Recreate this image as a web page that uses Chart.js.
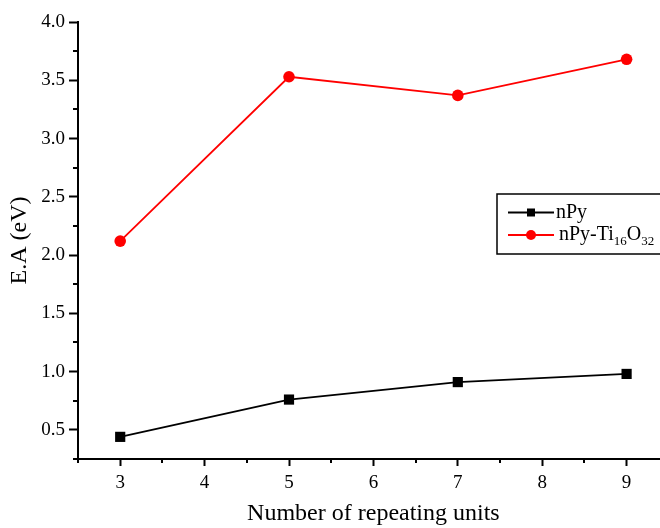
<!DOCTYPE html>
<html>
<head>
<meta charset="utf-8">
<script src="https://cdn.jsdelivr.net/npm/chart.js@4/dist/chart.umd.min.js"></script>
<style>
  html, body { margin: 0; padding: 0; overflow: hidden; background: #fff; }
  canvas { display: block; }
</style>
</head>
<body>
<canvas id="ea-chart" width="676" height="528"></canvas>
<script>
// data
const units = [3, 5, 7, 9];
const eaPy = [0.44, 0.76, 0.91, 0.98];
const eaPyTi = [2.12, 3.53, 3.37, 3.68];
const seriesNames = ['nPy', 'nPy-Ti16O32'];

const serif = "'Liberation Serif', 'Times New Roman', serif";
Chart.defaults.font.family = serif;
Chart.defaults.font.size = 19;
Chart.defaults.color = '#000';

const isMajor = (v, step) => Math.abs(v / step - Math.round(v / step)) < 1e-6;

// shorter minor ticks (Chart.js has one tickLength per axis)
const minorTicks = {
  id: 'minorTicks',
  afterDraw(chart) {
    const c = chart.ctx;
    const xs = chart.scales.x, ys = chart.scales.y;
    c.save();
    c.strokeStyle = '#000';
    c.lineWidth = 2;
    xs.ticks.forEach(t => {
      if (isMajor(t.value, 1)) return;
      const px = Math.round(xs.getPixelForValue(t.value));
      c.beginPath(); c.moveTo(px, xs.top); c.lineTo(px, xs.top + 4); c.stroke();
    });
    ys.ticks.forEach(t => {
      if (isMajor(t.value, 0.5)) return;
      const py = Math.round(ys.getPixelForValue(t.value));
      c.beginPath(); c.moveTo(ys.right, py); c.lineTo(ys.right - 5, py); c.stroke();
    });
    c.restore();
  }
};

// boxed legend with subscripts in the formula
const boxLegend = {
  id: 'boxLegend',
  afterDatasetsDraw(chart) {
    const c = chart.ctx;
    const left = 497, top = 194;
    c.save();
    c.fillStyle = '#fff';
    c.fillRect(left, top, 200, 60);
    c.strokeStyle = '#000';
    c.lineWidth = 1.5;
    c.strokeRect(left, top, 200, 60);
    chart.data.datasets.forEach((ds, i) => {
      const yy = top + 18.5 + i * 22.5;
      const mx = left + 34;
      c.strokeStyle = ds.borderColor;
      c.fillStyle = ds.borderColor;
      c.lineWidth = 1.8;
      c.beginPath(); c.moveTo(left + 11, yy); c.lineTo(left + 57, yy); c.stroke();
      if (ds.pointStyle === 'rect') {
        c.fillRect(mx - 4, yy - 4, 8, 8);
      } else {
        c.beginPath(); c.arc(mx, yy, 5, 0, Math.PI * 2); c.fill();
      }
      c.fillStyle = '#000';
      c.textBaseline = 'middle';
      let tx = left + 59 + i * 3;
      ds.label.split(/(\d+)/).forEach((part, k) => {
        if (!part) return;
        const sub = k % 2 === 1;
        c.font = (sub ? '13px ' : '20px ') + serif;
        c.fillText(part, tx, yy + (sub ? 7 : 0));
        tx += c.measureText(part).width;
      });
    });
    c.restore();
  }
};

new Chart(document.getElementById('ea-chart'), {
  type: 'line',
  data: {
    datasets: [{
      label: seriesNames[0],
      data: units.map((u, i) => ({ x: u, y: eaPy[i] })),
      borderColor: '#000000',
      backgroundColor: '#000000',
      borderWidth: 1.8,
      pointStyle: 'rect',
      pointRadius: 7.2,
      pointBorderWidth: 0,
      tension: 0
    }, {
      label: seriesNames[1],
      data: units.map((u, i) => ({ x: u, y: eaPyTi[i] })),
      borderColor: '#ff0000',
      backgroundColor: '#ff0000',
      borderWidth: 1.8,
      pointStyle: 'circle',
      pointRadius: 5.8,
      pointBorderWidth: 0,
      tension: 0
    }]
  },
  options: {
    responsive: false,
    animation: false,
    clip: false,
    layout: { padding: { top: 22, left: 0, right: 0, bottom: 0 } },
    plugins: {
      legend: { display: false },
      tooltip: { enabled: false }
    },
    scales: {
      x: {
        type: 'linear',
        min: 2.5,
        max: 9.5,
        afterFit: s => { s.height = 69; },
        border: { display: true, color: '#000', width: 2 },
        grid: {
          drawOnChartArea: false,
          tickLength: 7,
          tickWidth: 2,
          tickColor: ctx => isMajor(ctx.tick.value, 1) ? '#000' : 'rgba(0,0,0,0)'
        },
        ticks: {
          stepSize: 0.5,
          autoSkip: false,
          maxRotation: 0,
          padding: 6,
          color: '#000',
          font: { family: serif, size: 19 },
          callback: v => isMajor(v, 1) ? String(Math.round(v)) : ''
        },
        title: {
          display: true,
          text: 'Number of repeating units',
          color: '#000',
          font: { family: serif, size: 24 },
          padding: { top: 0, bottom: 0 }
        }
      },
      y: {
        min: 0.25,
        max: 4.0,
        afterFit: s => { s.width = 78; },
        border: { display: true, color: '#000', width: 2 },
        grid: {
          drawOnChartArea: false,
          tickLength: 9,
          tickWidth: 2,
          tickColor: ctx => isMajor(ctx.tick.value, 0.5) ? '#000' : 'rgba(0,0,0,0)'
        },
        ticks: {
          stepSize: 0.25,
          autoSkip: false,
          padding: 4,
          color: '#000',
          font: { family: serif, size: 19 },
          callback: v => isMajor(v, 0.5) ? v.toFixed(1) : ''
        },
        title: {
          display: true,
          text: 'E.A (eV)',
          color: '#000',
          font: { family: serif, size: 24 },
          padding: { top: 5, bottom: 0 }
        }
      }
    }
  },
  plugins: [minorTicks, boxLegend]
});
</script>
</body>
</html>
